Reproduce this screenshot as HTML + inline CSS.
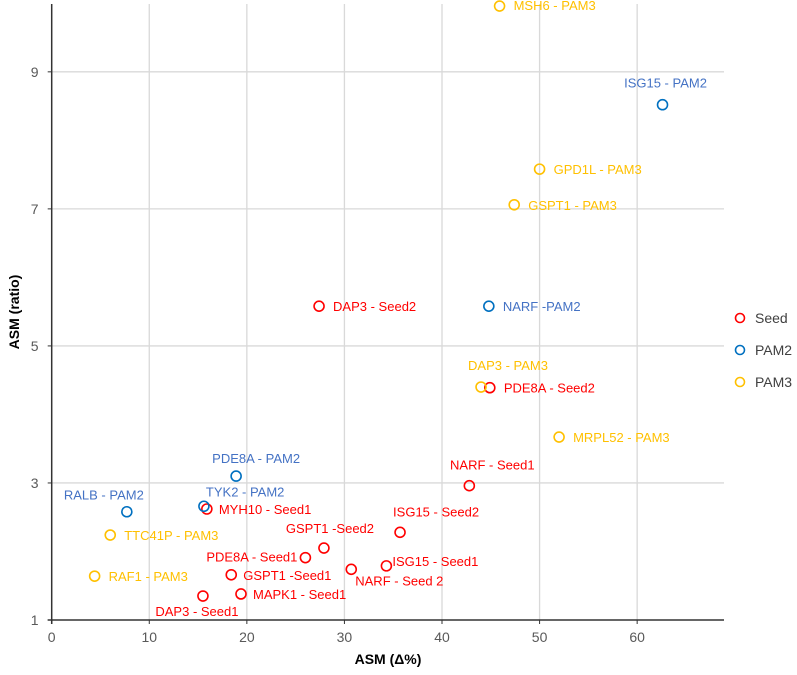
<!DOCTYPE html>
<html><head><meta charset="utf-8"><style>
body{margin:0;background:#fff;}
svg{display:block;font-family:"Liberation Sans",sans-serif;}
</style></head><body>
<svg id="chart" width="797" height="675"></svg>
<script>
const seedX=[27.4,44.9,42.8,35.7,27.9,26.0,15.9,18.4,30.7,34.3,19.4,15.5];
const seedY=[5.58,4.39,2.96,2.28,2.05,1.91,2.62,1.66,1.74,1.79,1.38,1.35];
const seedLabels=["DAP3 - Seed2","PDE8A - Seed2","NARF - Seed1","ISG15 - Seed2","GSPT1 -Seed2","PDE8A - Seed1","MYH10 - Seed1","GSPT1 -Seed1","NARF - Seed 2","ISG15 - Seed1","MAPK1 - Seed1","DAP3 - Seed1"];
const pam2X=[62.6,44.8,18.9,15.6,7.7];
const pam2Y=[8.52,5.58,3.10,2.66,2.58];
const pam2Labels=["ISG15 - PAM2","NARF -PAM2","PDE8A - PAM2","TYK2 - PAM2","RALB - PAM2"];
const pam3X=[45.9,50.0,47.4,44.0,52.0,6.0,4.4];
const pam3Y=[9.96,7.58,7.06,4.40,3.67,2.24,1.64];
const pam3Labels=["MSH6 - PAM3","GPD1L - PAM3","GSPT1 - PAM3","DAP3 - PAM3","MRPL52 - PAM3","TTC41P - PAM3","RAF1 - PAM3"];
const xTicks=[0,10,20,30,40,50,60];
const yTicks=[1,3,5,7,9];
const seriesNames=["Seed","PAM2","PAM3"];

// label placement (style): [dx,dy,anchor]
const seedPos=[[14,5,"start"],[14,5,"start"],[23,-16,"middle"],[-7,-16,"start"],[6,-15,"middle"],[-8,4,"end"],[12,5,"start"],[12,5,"start"],[4,16,"start"],[6,0,"start"],[12,5,"start"],[-6,20,"middle"]];
const pam2Pos=[[3,-17,"middle"],[14,5,"start"],[20,-13,"middle"],[2,-10,"start"],[-23,-12,"middle"]];
const pam3Pos=[[14,4,"start"],[14,5,"start"],[14,5,"start"],[27,-17,"middle"],[14,5,"start"],[14,5,"start"],[14,5,"start"]];

const svg=document.getElementById('chart');
const NS="http://www.w3.org/2000/svg";
const L=51.7,R=724,T=4,B=620,X0=0,X1=68.9,Y0=1,Y1=9.99;
const sx=v=>L+(v-X0)/(X1-X0)*(R-L);
const sy=v=>B-(v-Y0)/(Y1-Y0)*(B-T);
function el(t,a,parent){const e=document.createElementNS(NS,t);for(const k in a)e.setAttribute(k,a[k]);(parent||svg).appendChild(e);return e;}

const grid=el('g',{});


xTicks.forEach(t=>{if(t>0){el('line',{x1:sx(t),x2:sx(t),y1:T,y2:B,stroke:'#d9d9d9','stroke-width':1.3},grid);}});
yTicks.forEach(t=>{if(t>1){el('line',{x1:L,x2:R,y1:sy(t),y2:sy(t),stroke:'#d9d9d9','stroke-width':1.3},grid);}});

const ax=el('g',{});


el('line',{x1:L,x2:L,y1:T,y2:B+4,stroke:'#333','stroke-width':1.5},ax);
el('line',{x1:L-4,x2:R,y1:B,y2:B,stroke:'#333','stroke-width':1.5},ax);
xTicks.forEach(t=>{
  el('line',{x1:sx(t),x2:sx(t),y1:B,y2:B+4,stroke:'#333'},ax);
  const tx=el('text',{x:sx(t),y:B+22,'text-anchor':'middle','font-size':14,fill:'#595959'},ax);tx.textContent=t;
  
  
});
yTicks.forEach(t=>{
  el('line',{x1:L-4,x2:L,y1:sy(t),y2:sy(t),stroke:'#333'},ax);
  const tx=el('text',{x:L-17,y:sy(t)+5,'text-anchor':'middle','font-size':14,fill:'#595959'},ax);tx.textContent=t;
  
  
});
const xt=el('text',{x:388,y:664,'text-anchor':'middle','font-size':14,'font-weight':'bold',fill:'#000'});xt.textContent='ASM (Δ%)';


const yt=el('text',{x:0,y:0,transform:'translate(19,312) rotate(-90)','text-anchor':'middle','font-size':14,'font-weight':'bold',fill:'#000'});yt.textContent='ASM (ratio)';



function series(xs,ys,labels,pos,mk,tc,name){
  const g=el('g',{});
  
  
  xs.forEach((x,i)=>{
    const cx=sx(x),cy=sy(ys[i]);
    const c=el('circle',{cx:cx,cy:cy,r:5,fill:'none',stroke:mk,'stroke-width':1.6},g);
    
    
    const p=pos[i];
    const t=el('text',{x:cx+p[0],y:cy+p[1],'text-anchor':p[2],'font-size':13,fill:tc},g);
    t.textContent=labels[i];
    
    
  });
}
series(seedX,seedY,seedLabels,seedPos,'#ff0000','#ff0000','seed');
series(pam2X,pam2Y,pam2Labels,pam2Pos,'#0070c0','#4472c4','pam2');
series(pam3X,pam3Y,pam3Labels,pam3Pos,'#ffc000','#ffc000','pam3');

const legCols=['#ff0000','#0070c0','#ffc000'];
const lg=el('g',{});


seriesNames.forEach((n,i)=>{
  const y=318+i*32;
  const c=el('circle',{cx:740,cy:y,r:4.5,fill:'none',stroke:legCols[i],'stroke-width':1.6},lg);
  
  
  const t=el('text',{x:755,y:y+5,'font-size':14,fill:'#404040'},lg);t.textContent=n;
  
  
});
</script>
</body></html>
